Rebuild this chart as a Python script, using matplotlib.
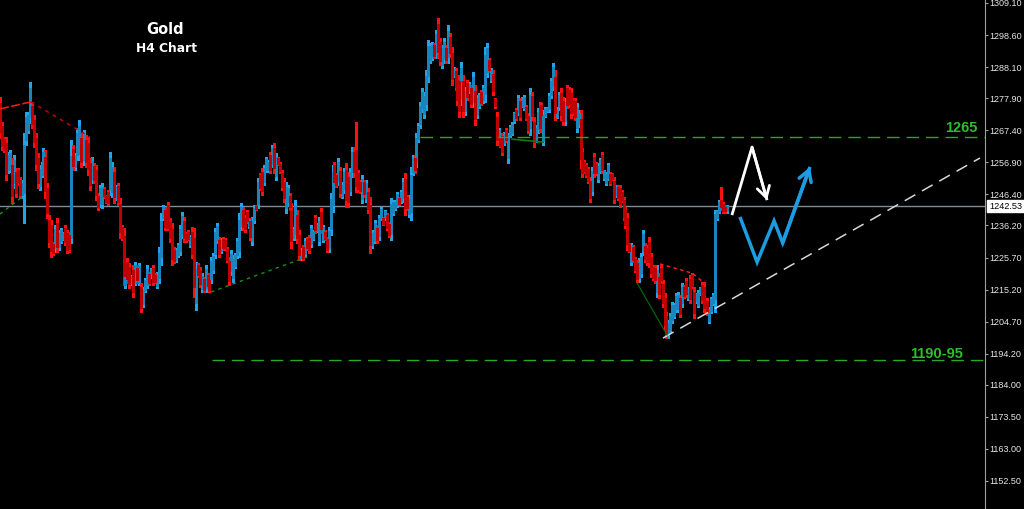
import matplotlib
matplotlib.use('Agg')
import matplotlib.pyplot as plt
import numpy as np
from matplotlib.transforms import blended_transform_factory
from matplotlib.patches import FancyArrowPatch, ArrowStyle

# ---------------- data (Gold, H4) ----------------
opens = [
    1276.3, 1268.7, 1264.5, 1263.1, 1254.4, 1254.8, 1256.1, 1250.1, 1253.7, 1254.3,
    1251.1, 1246.1, 1247.0, 1264.2, 1267.5, 1271.8, 1275.4, 1270.8, 1264.7, 1258.2,
    1249.0, 1252.8, 1253.5, 1258.5, 1248.4, 1238.1, 1236.2, 1230.1, 1228.8, 1237.0,
    1229.2, 1231.2, 1231.8, 1235.4, 1233.6, 1233.0, 1232.0, 1261.4, 1255.2, 1259.3,
    1259.7, 1264.8, 1258.5, 1257.7, 1264.2, 1263.3, 1256.7, 1251.4, 1255.7, 1254.3,
    1246.0, 1243.4, 1243.1, 1248.3, 1245.8, 1247.1, 1248.3, 1247.2, 1253.6, 1245.3,
    1249.0, 1243.2, 1235.6, 1232.6, 1217.1, 1224.3, 1222.7, 1217.2, 1221.6, 1217.8,
    1222.3, 1217.8, 1215.9, 1210.5, 1215.1, 1216.8, 1220.3, 1219.5, 1222.2, 1220.1,
    1216.5, 1219.1, 1225.8, 1238.7, 1241.2, 1238.4, 1242.8, 1237.5, 1234.9, 1228.3,
    1224.9, 1226.6, 1228.0, 1233.4, 1237.8, 1233.5, 1234.2, 1229.7, 1234.2, 1232.0,
    1210.9, 1223.2, 1221.6, 1215.3, 1218.6, 1215.7, 1219.9, 1218.3, 1218.6, 1221.6,
    1227.0, 1231.5, 1231.4, 1227.9, 1231.8, 1231.5, 1228.4, 1224.5, 1221.2, 1219.0,
    1223.0, 1226.5, 1228.0, 1236.0, 1241.2, 1238.8, 1240.6, 1235.9, 1237.6, 1231.2,
    1237.9, 1242.6, 1243.4, 1252.6, 1253.8, 1250.5, 1254.4, 1254.3, 1259.3, 1256.5,
    1261.7, 1252.4, 1258.2, 1256.5, 1253.4, 1250.6, 1241.8, 1243.9, 1246.0, 1241.4,
    1232.1, 1233.4, 1239.7, 1233.2, 1225.5, 1229.1, 1226.8, 1231.8, 1232.2, 1230.2,
    1231.9, 1238.8, 1234.5, 1231.2, 1240.7, 1231.6, 1234.2, 1231.7, 1228.7, 1235.1,
    1242.9, 1255.9, 1252.7, 1250.8, 1253.9, 1246.0, 1248.1, 1254.5, 1252.0, 1247.5,
    1253.6, 1260.4, 1261.0, 1253.3, 1250.5, 1245.0, 1250.3, 1245.0, 1247.3, 1242.8,
    1229.7, 1231.1, 1232.4, 1235.5, 1232.6, 1238.6, 1238.6, 1238.5, 1239.5, 1236.6,
    1233.5, 1240.4, 1241.8, 1243.0, 1245.1, 1244.2, 1245.1, 1251.3, 1245.5, 1240.1,
    1240.6, 1253.7, 1258.4, 1257.1, 1264.5, 1269.4, 1274.6, 1272.7, 1276.0, 1285.3,
    1290.4, 1291.3, 1295.3, 1292.5, 1302.2, 1296.3, 1288.9, 1290.6, 1294.4, 1291.3,
    1298.1, 1292.8, 1285.4, 1286.7, 1284.0, 1283.4, 1277.8, 1283.4, 1273.8, 1282.9,
    1280.1, 1281.1, 1276.7, 1280.2, 1272.5, 1275.4, 1279.9, 1277.2, 1279.4, 1286.6,
    1290.4, 1283.9, 1285.9, 1277.5, 1271.8, 1263.9, 1264.7, 1265.4, 1263.2, 1267.4,
    1258.2, 1265.8, 1266.5, 1270.3, 1274.1, 1273.4, 1276.9, 1275.5, 1274.8, 1275.0,
    1272.0, 1268.1, 1278.5, 1270.2, 1264.3, 1267.7, 1275.2, 1275.6, 1264.3, 1272.2,
    1273.6, 1274.3, 1279.0, 1281.9, 1284.7, 1271.9, 1274.9, 1279.6, 1276.9, 1270.4,
    1281.1, 1280.6, 1279.7, 1277.2, 1276.9, 1268.2, 1269.3, 1271.2, 1260.2, 1257.1,
    1256.0, 1254.6, 1250.9, 1247.6, 1258.7, 1256.4, 1251.4, 1254.1, 1259.3, 1251.6,
    1250.1, 1251.9, 1253.1, 1253.0, 1250.8, 1246.1, 1248.8, 1248.4, 1247.2, 1244.4,
    1241.3, 1238.5, 1230.0, 1224.3, 1229.0, 1225.1, 1223.8, 1218.9, 1220.5, 1227.7,
    1229.6, 1228.8, 1230.9, 1226.0, 1222.5, 1222.3, 1214.4, 1219.4, 1222.3, 1217.0,
    1212.3, 1206.5, 1200.2, 1201.9, 1205.2, 1206.6, 1208.7, 1208.8, 1212.3, 1210.7,
    1216.0, 1218.1, 1212.4, 1218.6, 1219.9, 1214.5, 1211.3, 1210.3, 1213.8, 1216.7,
    1216.2, 1209.8, 1211.6, 1205.0, 1208.3, 1210.7, 1212.0, 1238.5, 1240.9, 1244.5,
    1243.3, 1242.4, 1240.8,
]
highs = [
    1278.3, 1270.1, 1265.2, 1265.2, 1260.3, 1260.9, 1258.3, 1259.3, 1255.1, 1255.1,
    1252.1, 1251.1, 1266.5, 1273.4, 1273.4, 1283.2, 1276.7, 1272.4, 1266.5, 1259.9,
    1256.0, 1257.0, 1261.6, 1260.9, 1250.1, 1239.7, 1238.0, 1230.8, 1236.4, 1238.7,
    1234.7, 1235.4, 1234.0, 1236.4, 1234.7, 1234.0, 1264.2, 1262.6, 1259.9, 1268.1,
    1270.8, 1266.5, 1266.8, 1267.5, 1265.8, 1265.2, 1258.3, 1258.6, 1256.7, 1256.0,
    1246.8, 1249.5, 1250.1, 1248.8, 1246.2, 1247.8, 1260.3, 1257.0, 1255.4, 1249.5,
    1250.1, 1245.2, 1236.4, 1235.4, 1224.9, 1225.5, 1223.9, 1220.0, 1223.2, 1224.2,
    1223.2, 1223.9, 1217.3, 1216.0, 1219.0, 1223.2, 1220.9, 1222.3, 1223.2, 1220.6,
    1220.9, 1229.1, 1240.3, 1242.9, 1242.3, 1239.0, 1243.9, 1238.7, 1237.0, 1229.1,
    1228.8, 1230.5, 1236.4, 1240.6, 1239.0, 1234.0, 1234.7, 1233.1, 1235.7, 1235.4,
    1224.2, 1223.9, 1222.6, 1220.6, 1219.3, 1223.2, 1220.6, 1219.0, 1225.9, 1227.2,
    1235.4, 1237.0, 1232.4, 1232.1, 1232.4, 1232.1, 1229.1, 1225.9, 1228.2, 1226.5,
    1227.2, 1232.1, 1240.3, 1243.6, 1242.3, 1239.7, 1241.3, 1238.7, 1238.7, 1239.0,
    1242.9, 1242.9, 1251.8, 1253.4, 1255.1, 1256.0, 1258.6, 1257.7, 1260.3, 1262.6,
    1263.2, 1259.9, 1258.6, 1257.0, 1254.4, 1251.8, 1250.4, 1249.5, 1246.8, 1243.6,
    1235.7, 1244.5, 1241.3, 1234.7, 1228.8, 1229.8, 1232.1, 1232.4, 1233.1, 1236.4,
    1234.7, 1239.7, 1237.0, 1239.0, 1241.9, 1236.4, 1234.7, 1232.4, 1235.7, 1246.8,
    1256.0, 1257.0, 1253.4, 1258.3, 1255.4, 1250.4, 1255.1, 1256.7, 1253.7, 1255.1,
    1261.9, 1261.9, 1270.1, 1254.4, 1251.1, 1252.7, 1251.1, 1251.1, 1248.5, 1245.5,
    1234.7, 1234.7, 1238.0, 1236.4, 1239.7, 1242.3, 1239.0, 1241.3, 1240.3, 1237.3,
    1245.2, 1244.5, 1244.5, 1247.2, 1245.5, 1247.8, 1251.8, 1253.4, 1246.2, 1246.2,
    1255.4, 1259.3, 1259.3, 1266.5, 1269.8, 1276.7, 1281.2, 1279.9, 1287.1, 1297.0,
    1296.0, 1296.3, 1296.0, 1300.3, 1304.2, 1297.6, 1295.3, 1297.6, 1295.3, 1301.9,
    1299.3, 1294.7, 1288.1, 1287.8, 1285.5, 1285.5, 1289.8, 1285.5, 1281.6, 1283.9,
    1283.2, 1282.2, 1286.5, 1282.2, 1279.0, 1279.6, 1280.6, 1282.2, 1294.7, 1296.0,
    1291.1, 1287.8, 1287.1, 1278.0, 1273.4, 1268.1, 1265.2, 1266.5, 1266.8, 1268.1,
    1266.5, 1269.1, 1270.1, 1273.4, 1274.7, 1279.0, 1278.0, 1278.3, 1279.0, 1275.7,
    1273.0, 1281.2, 1279.9, 1271.7, 1269.1, 1274.7, 1276.7, 1276.3, 1274.0, 1275.0,
    1275.0, 1279.6, 1284.5, 1289.4, 1287.1, 1275.0, 1279.9, 1281.2, 1278.3, 1278.0,
    1282.2, 1281.6, 1281.2, 1278.0, 1278.0, 1276.3, 1274.0, 1274.0, 1261.6, 1257.7,
    1256.7, 1255.4, 1252.1, 1255.4, 1259.9, 1257.0, 1256.7, 1258.3, 1260.3, 1254.4,
    1253.7, 1256.7, 1253.7, 1253.4, 1252.1, 1249.5, 1249.5, 1249.5, 1247.8, 1245.5,
    1242.3, 1240.3, 1230.5, 1230.5, 1229.8, 1225.9, 1224.9, 1225.5, 1227.2, 1234.7,
    1230.5, 1229.8, 1232.4, 1227.2, 1223.2, 1223.2, 1223.2, 1220.6, 1223.2, 1218.3,
    1214.1, 1207.8, 1205.2, 1207.5, 1211.1, 1210.8, 1214.1, 1214.4, 1213.4, 1217.3,
    1216.7, 1219.0, 1216.0, 1220.0, 1220.6, 1216.0, 1214.1, 1215.0, 1216.0, 1217.7,
    1217.7, 1211.8, 1212.4, 1209.5, 1212.8, 1214.1, 1241.3, 1241.3, 1244.5, 1248.8,
    1243.9, 1242.9, 1242.9,
]
lows = [
    1264.9, 1260.9, 1260.3, 1251.1, 1253.4, 1253.7, 1243.6, 1248.5, 1245.5, 1249.5,
    1245.2, 1245.2, 1237.0, 1262.6, 1266.5, 1269.8, 1268.1, 1261.9, 1254.4, 1248.5,
    1247.8, 1252.1, 1252.1, 1245.2, 1238.7, 1229.1, 1225.9, 1226.5, 1227.5, 1227.5,
    1228.2, 1230.5, 1231.4, 1229.8, 1227.2, 1227.5, 1230.5, 1254.4, 1254.4, 1257.7,
    1257.7, 1255.4, 1257.0, 1256.0, 1255.4, 1252.7, 1247.8, 1250.1, 1250.1, 1244.5,
    1241.3, 1242.3, 1241.9, 1245.2, 1243.6, 1242.9, 1246.2, 1245.5, 1243.6, 1244.5,
    1242.9, 1232.1, 1231.4, 1216.7, 1215.7, 1217.3, 1215.7, 1216.7, 1212.8, 1216.7,
    1217.3, 1216.7, 1207.8, 1209.5, 1214.4, 1215.7, 1216.7, 1219.0, 1216.7, 1217.3,
    1215.7, 1217.3, 1223.2, 1238.0, 1234.7, 1234.7, 1236.4, 1230.8, 1223.2, 1223.9,
    1224.2, 1225.9, 1226.5, 1232.1, 1230.8, 1230.8, 1231.4, 1229.1, 1225.5, 1212.8,
    1208.5, 1219.3, 1216.0, 1214.4, 1214.4, 1214.4, 1215.7, 1214.4, 1217.3, 1220.6,
    1225.5, 1230.5, 1225.9, 1227.2, 1228.2, 1228.2, 1224.2, 1216.7, 1220.0, 1217.7,
    1222.3, 1225.5, 1225.9, 1234.7, 1234.7, 1234.0, 1237.0, 1235.4, 1231.4, 1229.8,
    1237.0, 1241.3, 1241.9, 1247.8, 1246.2, 1249.5, 1253.7, 1253.7, 1253.4, 1255.4,
    1253.4, 1251.1, 1256.0, 1253.4, 1247.8, 1243.9, 1240.3, 1242.9, 1241.3, 1228.8,
    1231.4, 1231.4, 1230.5, 1224.9, 1224.9, 1224.9, 1225.9, 1228.2, 1227.2, 1229.1,
    1231.4, 1233.7, 1234.0, 1229.8, 1233.7, 1230.8, 1231.4, 1227.5, 1227.5, 1233.1,
    1240.6, 1249.5, 1248.8, 1249.5, 1245.5, 1245.2, 1246.8, 1242.3, 1242.3, 1246.2,
    1252.1, 1252.1, 1247.2, 1247.2, 1246.8, 1243.6, 1245.5, 1243.9, 1240.3, 1227.2,
    1228.8, 1230.5, 1231.4, 1230.5, 1231.4, 1238.0, 1236.4, 1238.0, 1234.7, 1232.4,
    1231.4, 1239.7, 1241.3, 1242.3, 1242.9, 1243.6, 1243.9, 1239.7, 1241.3, 1239.0,
    1238.0, 1252.7, 1253.4, 1255.4, 1263.5, 1268.1, 1273.4, 1271.4, 1274.0, 1283.2,
    1289.4, 1290.4, 1291.1, 1291.1, 1291.1, 1288.8, 1287.8, 1289.4, 1289.4, 1289.4,
    1291.4, 1282.2, 1284.9, 1280.6, 1275.7, 1271.7, 1275.7, 1271.7, 1272.4, 1277.3,
    1279.6, 1275.0, 1275.0, 1269.1, 1271.4, 1274.7, 1275.7, 1276.3, 1276.7, 1284.9,
    1286.5, 1283.2, 1279.0, 1274.7, 1262.6, 1263.2, 1261.9, 1259.3, 1262.6, 1263.5,
    1256.7, 1265.2, 1265.8, 1269.8, 1270.8, 1272.4, 1270.8, 1275.0, 1274.0, 1270.8,
    1266.5, 1265.8, 1270.8, 1261.9, 1263.5, 1266.5, 1266.8, 1271.7, 1262.6, 1271.7,
    1273.4, 1273.4, 1278.0, 1280.6, 1270.8, 1271.4, 1274.0, 1270.8, 1269.1, 1269.1,
    1274.7, 1275.0, 1271.4, 1272.4, 1270.8, 1266.8, 1268.5, 1255.1, 1252.1, 1253.4,
    1252.1, 1250.1, 1243.9, 1246.2, 1252.1, 1252.7, 1250.4, 1253.4, 1253.4, 1251.1,
    1249.5, 1251.1, 1249.5, 1251.1, 1243.6, 1245.5, 1244.5, 1242.3, 1243.9, 1238.0,
    1235.4, 1228.2, 1227.5, 1223.2, 1224.2, 1220.9, 1217.7, 1217.7, 1219.3, 1226.5,
    1224.2, 1223.2, 1222.6, 1219.3, 1218.3, 1217.3, 1212.8, 1212.4, 1217.3, 1209.5,
    1201.9, 1199.3, 1199.3, 1200.9, 1204.2, 1205.9, 1207.8, 1207.8, 1206.2, 1209.5,
    1212.4, 1212.8, 1211.8, 1210.8, 1215.7, 1205.9, 1210.8, 1209.5, 1213.4, 1210.8,
    1207.8, 1209.5, 1206.9, 1204.2, 1207.5, 1210.1, 1207.8, 1238.0, 1240.3, 1241.3,
    1240.3, 1240.3, 1240.3,
]
closes = [
    1266.9, 1262.3, 1261.0, 1253.2, 1259.3, 1259.8, 1245.8, 1257.7, 1246.9, 1250.3,
    1246.2, 1250.2, 1262.5, 1271.8, 1272.4, 1281.2, 1269.4, 1263.5, 1256.2, 1250.2,
    1254.8, 1256.3, 1260.2, 1247.6, 1240.4, 1230.7, 1227.7, 1227.1, 1235.1, 1229.2,
    1233.7, 1234.7, 1233.6, 1230.8, 1228.3, 1228.5, 1259.0, 1255.6, 1259.1, 1266.5,
    1268.8, 1257.1, 1265.3, 1265.8, 1257.0, 1254.6, 1249.4, 1257.3, 1251.1, 1246.2,
    1242.1, 1248.4, 1248.9, 1245.7, 1244.0, 1243.6, 1258.2, 1255.3, 1245.4, 1248.7,
    1244.0, 1234.1, 1232.2, 1219.5, 1223.5, 1218.5, 1216.9, 1219.5, 1214.4, 1223.1,
    1218.2, 1222.8, 1209.2, 1215.0, 1218.3, 1222.1, 1217.3, 1221.8, 1217.7, 1217.8,
    1220.1, 1227.3, 1237.7, 1242.2, 1235.8, 1235.3, 1237.5, 1232.0, 1225.3, 1224.7,
    1228.1, 1229.8, 1234.9, 1239.3, 1232.0, 1231.3, 1231.9, 1232.5, 1227.0, 1216.2,
    1221.8, 1220.0, 1217.0, 1219.7, 1215.1, 1221.9, 1216.4, 1215.1, 1224.6, 1226.2,
    1233.9, 1236.0, 1226.9, 1231.4, 1228.8, 1228.8, 1224.9, 1218.1, 1227.0, 1225.2,
    1226.5, 1231.1, 1238.1, 1242.3, 1235.8, 1234.9, 1237.6, 1238.2, 1232.5, 1237.6,
    1242.0, 1241.5, 1250.3, 1248.6, 1247.5, 1255.0, 1257.9, 1257.1, 1254.4, 1261.5,
    1254.9, 1258.6, 1256.4, 1253.9, 1248.8, 1245.1, 1248.9, 1248.5, 1242.1, 1231.0,
    1235.0, 1242.5, 1232.1, 1226.4, 1228.2, 1225.6, 1231.2, 1228.8, 1228.1, 1235.3,
    1234.2, 1234.6, 1236.5, 1237.6, 1234.9, 1235.6, 1231.9, 1228.2, 1234.5, 1244.8,
    1253.7, 1250.6, 1249.5, 1257.0, 1247.0, 1249.6, 1253.8, 1244.5, 1244.0, 1253.8,
    1260.4, 1253.6, 1249.0, 1248.3, 1247.5, 1251.3, 1246.4, 1250.0, 1241.5, 1229.9,
    1233.8, 1234.1, 1237.0, 1231.4, 1238.5, 1241.7, 1236.8, 1240.8, 1235.5, 1233.1,
    1243.1, 1243.8, 1244.0, 1246.5, 1243.3, 1247.2, 1250.6, 1241.8, 1242.0, 1245.1,
    1252.8, 1258.3, 1254.3, 1264.8, 1268.8, 1275.4, 1280.0, 1278.6, 1285.1, 1294.9,
    1295.0, 1295.4, 1291.8, 1298.9, 1293.1, 1290.1, 1294.2, 1296.4, 1290.3, 1300.0,
    1292.6, 1284.1, 1287.6, 1281.7, 1277.2, 1273.8, 1287.7, 1273.8, 1280.2, 1278.3,
    1282.7, 1276.1, 1284.8, 1271.1, 1277.9, 1278.9, 1276.4, 1281.3, 1292.0, 1294.3,
    1287.2, 1287.1, 1280.2, 1275.2, 1264.2, 1267.4, 1262.4, 1260.4, 1266.2, 1264.2,
    1265.0, 1268.5, 1269.5, 1272.9, 1271.4, 1278.0, 1271.9, 1277.8, 1278.2, 1271.5,
    1267.5, 1278.9, 1272.2, 1263.4, 1268.3, 1273.5, 1268.3, 1272.4, 1272.3, 1274.5,
    1274.8, 1278.7, 1283.5, 1288.1, 1273.2, 1274.5, 1279.0, 1272.4, 1270.5, 1276.7,
    1275.8, 1276.0, 1272.9, 1273.2, 1271.9, 1274.9, 1273.2, 1257.9, 1253.5, 1254.0,
    1252.8, 1250.9, 1245.1, 1254.0, 1253.3, 1253.3, 1255.7, 1257.6, 1254.4, 1253.9,
    1253.1, 1255.9, 1250.1, 1251.5, 1244.9, 1248.9, 1245.2, 1243.4, 1244.5, 1239.1,
    1236.4, 1230.0, 1228.0, 1229.4, 1225.0, 1221.7, 1218.8, 1224.3, 1226.0, 1233.5,
    1225.2, 1224.2, 1224.1, 1220.5, 1219.0, 1218.2, 1221.6, 1213.6, 1218.2, 1210.8,
    1203.7, 1200.6, 1204.3, 1206.5, 1210.1, 1210.1, 1213.2, 1213.4, 1207.3, 1216.1,
    1213.1, 1213.7, 1215.4, 1212.2, 1216.4, 1207.4, 1213.6, 1214.2, 1215.6, 1211.8,
    1209.3, 1211.4, 1207.7, 1208.7, 1212.0, 1213.5, 1240.0, 1240.8, 1243.9, 1242.2,
    1241.0, 1240.8, 1242.53,
]

price_ticks = [1309.10, 1298.60, 1288.10, 1277.90, 1267.40, 1256.90, 1246.40, 1236.20,
               1225.70, 1215.20, 1204.70, 1194.20, 1184.00, 1173.50, 1163.00, 1152.50]
price_tick_labels = ['%.2f' % v for v in price_ticks]
last_price = 1242.53

# levels / drawings (bar index, price)
level_1265 = 1265.2
level_1265_start = 214.8
level_1190 = 1192.0
level_1190_start = 108.3
trend_x = [339.2, 501.5]
trend_y = [1199.3, 1258.3]
red_top_x = [-0.3, 15.6]
red_top_y = [1274.4, 1276.7]
red_top2_x = [15.6, 45.8]
red_top2_y = [1276.7, 1265.2]
green_left_x = [-0.3, 11.0]
green_left_y = [1239.9, 1245.5]
green_mid_x = [107.8, 156.9]
green_mid_y = [1214.4, 1225.9]
green_small_x = [261.9, 277.8]
green_small_y = [1264.5, 1263.5]
red_low_x = [337.7, 354.1, 359.7]
red_low_y = [1223.6, 1220.6, 1217.7]
green_low_x = [325.9, 341.3]
green_low_y = [1217.4, 1200.3]
white_arrow_x = [374.5, 384.8, 392.5]
white_arrow_y = [1239.6, 1261.9, 1244.5]
blue_arrow_x = [378.6, 387.4, 396.1, 400.5, 414.5]
blue_arrow_y = [1239.0, 1224.2, 1237.7, 1230.5, 1255.4]

# ---------------- figure ----------------
W, H = 1024, 509
fig = plt.figure(figsize=(W / 100, H / 100), dpi=100, facecolor='black')
ax = fig.add_axes([0, 0, 985 / W, 1])
ax.set_facecolor('black')

o = np.array(opens); h = np.array(highs); l = np.array(lows); c = np.array(closes)
x = np.arange(len(o))
up = c >= o

wick_up, body_up = '#20A4EC', '#1A84BC'
wick_dn, body_dn = '#FF1010', '#C00000'

ax.vlines(x[up], l[up], h[up], colors=wick_up, lw=0.75, antialiased=False, zorder=3)
ax.vlines(x[~up], l[~up], h[~up], colors=wick_dn, lw=0.75, antialiased=False, zorder=3)
ax.vlines(x[up], o[up], c[up], colors=body_up, lw=0.75, antialiased=False, zorder=4)
ax.vlines(x[~up], c[~up], o[~up], colors=body_dn, lw=0.75, antialiased=False, zorder=4)

ax.set_xlim(-0.256, 504.1)
ax.set_ylim(1143.3, 1310.08)

# current price line
ax.axhline(last_price, color='#7F8C99', lw=1.0, zorder=2)

# horizontal levels
green = '#22AA22'
ax.plot([level_1265_start, 504.1], [level_1265, level_1265], color=green, lw=1.0,
        ls=(0, (9, 5)), zorder=5)
ax.plot([level_1190_start, 504.1], [level_1190, level_1190], color=green, lw=1.0,
        ls=(0, (9, 5)), zorder=5)

# trend line
ax.plot(trend_x, trend_y, color='#D8D8D8', lw=1.1, ls=(0, (8, 5)), zorder=5)

# small drawings
ax.plot(red_top_x, red_top_y, color='#FF1A1A', lw=1.1, ls=(0, (6, 1.5)), zorder=5)
ax.plot(red_top2_x, red_top2_y, color='#C00000', lw=1.1, ls=(0, (2.5, 3)), zorder=5)
ax.plot(green_left_x, green_left_y, color='#1E8C1E', lw=1.0, ls=(0, (2.5, 3)), zorder=5)
ax.plot(green_mid_x, green_mid_y, color='#1E8C1E', lw=1.0, ls=(0, (2.5, 3)), zorder=5)
ax.plot(green_small_x, green_small_y, color='#137A13', lw=1.2, zorder=5)
ax.plot(red_low_x, red_low_y, color='#FF2020', lw=1.0, ls=(0, (2.5, 2.5)), zorder=5)
ax.plot(green_low_x, green_low_y, color='#0B6E0B', lw=0.8, zorder=5)

# arrows
def draw_arrow(xs, ys, color, lw):
    ax.plot(xs, ys, color=color, lw=lw, solid_joinstyle='miter',
            solid_capstyle='butt', zorder=6)
    arr = FancyArrowPatch((xs[-2], ys[-2]), (xs[-1], ys[-1]),
                          arrowstyle=ArrowStyle('->', head_length=0.65, head_width=0.38),
                          mutation_scale=12, color=color, lw=lw,
                          shrinkA=0, shrinkB=0, zorder=6)
    ax.add_patch(arr)

draw_arrow(white_arrow_x, white_arrow_y, 'white', 2.0)
draw_arrow(blue_arrow_x, blue_arrow_y, '#1C9CE2', 2.5)

# axes styling
for s in ['top', 'left', 'bottom']:
    ax.spines[s].set_visible(False)
ax.spines['right'].set_color('#A0A0A0')
ax.spines['right'].set_linewidth(0.8)
ax.set_xticks([])
ax.yaxis.tick_right()
ax.set_yticks(price_ticks)
ax.set_yticklabels(price_tick_labels)
ax.tick_params(axis='y', colors='#A0A0A0', labelcolor='#E6E6E6', length=2.5,
               width=0.8, direction='out', pad=0.8, labelsize=6.5)
for t in ax.get_yticklabels():
    t.set_family('Liberation Sans')

# current price tag
tr = blended_transform_factory(ax.transAxes, ax.transData)
ax.text(1.004, last_price, '%.2f' % last_price, transform=tr, ha='left', va='center',
        fontsize=6.6, family='Liberation Sans', color='black', zorder=10,
        bbox=dict(boxstyle='square,pad=0.2', fc='white', ec='white'))

# texts
def ftxt(px, py, s, **kw):
    fig.text(px / W, 1 - py / H, s, **kw)

ftxt(165, 34, 'Gold', ha='center', va='baseline', fontsize=10.5, fontweight='bold',
     color='white', family='DejaVu Sans')
ftxt(166, 51.7, 'H4 Chart', ha='center', va='baseline', fontsize=8.8, fontweight='bold',
     color='white', family='DejaVu Sans')
ftxt(977, 132, '1265', ha='right', va='baseline', fontsize=10.5, fontweight='bold',
     color='#2DBE2D', family='Liberation Sans')
ftxt(963, 358, '1190-95', ha='right', va='baseline', fontsize=10.5, fontweight='bold',
     color='#2DBE2D', family='Liberation Sans')

fig.savefig('out.png', dpi=100, facecolor='black')
